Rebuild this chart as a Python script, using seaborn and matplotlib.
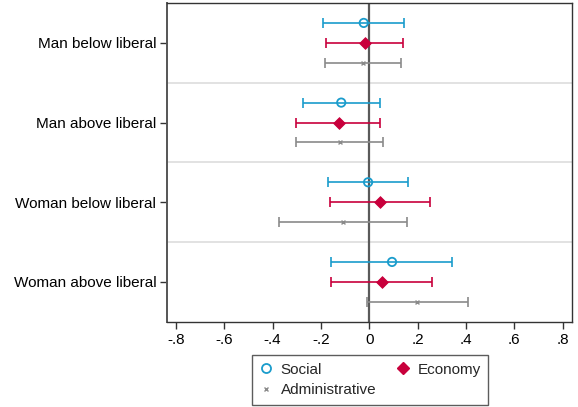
import numpy as np
import pandas as pd
import matplotlib
matplotlib.use("Agg")
import matplotlib.pyplot as plt
from matplotlib.lines import Line2D
import seaborn as sns

# Groups and estimates with 95% confidence bounds
groups = ["Man below liberal", "Man above liberal",
          "Woman below liberal", "Woman above liberal"]

social_est = [-0.023, -0.116, -0.005, 0.094]
social_lo = [-0.191, -0.273, -0.169, -0.157]
social_hi = [0.145, 0.043, 0.160, 0.343]

economy_est = [-0.019, -0.127, 0.044, 0.052]
economy_lo = [-0.179, -0.302, -0.162, -0.157]
economy_hi = [0.139, 0.044, 0.252, 0.259]

admin_est = [-0.027, -0.122, -0.109, 0.198]
admin_lo = [-0.184, -0.303, -0.373, -0.010]
admin_hi = [0.130, 0.055, 0.154, 0.408]

x_ticks = [-0.8, -0.6, -0.4, -0.2, 0.0, 0.2, 0.4, 0.6, 0.8]
x_tick_labels = ["-.8", "-.6", "-.4", "-.2", "0", ".2", ".4", ".6", ".8"]

series = ["Social", "Economy", "Administrative"]
colors = {"Social": "#1a9ccc", "Economy": "#c8003c", "Administrative": "#8a8a8a"}
offsets = {"Social": -0.25, "Economy": 0.0, "Administrative": 0.25}

frames = []
for name, est, lo, hi in [("Social", social_est, social_lo, social_hi),
                          ("Economy", economy_est, economy_lo, economy_hi),
                          ("Administrative", admin_est, admin_lo, admin_hi)]:
    frames.append(pd.DataFrame({
        "group": groups, "series": name,
        "est": est, "lo": lo, "hi": hi,
        "pos": np.arange(len(groups)) + offsets[name],
    }))
df = pd.concat(frames, ignore_index=True)

sns.set_theme(style="white")
plt.rcParams["font.family"] = ["Liberation Sans", "DejaVu Sans"]

fig = plt.figure(figsize=(5.78, 4.07), dpi=100)
ax = fig.add_axes([0.2895, 0.2096, 0.7005, 0.783])

# Group separators and zero reference line
for b in np.arange(0.5, len(groups) - 0.5, 1.0):
    ax.axhline(b, color="#dddddd", lw=1.2, zorder=0)
ax.axvline(0, color="#5a5a5a", lw=1.6, zorder=1)

# Confidence intervals
for name in series:
    d = df[df["series"] == name]
    ax.errorbar(d["est"], d["pos"],
                xerr=[d["est"] - d["lo"], d["hi"] - d["est"]],
                fmt="none", ecolor=colors[name], elinewidth=1.2,
                capsize=3.6, capthick=1.2, zorder=2)

# Point estimates
d = df[df["series"] == "Social"]
sns.scatterplot(data=d, x="est", y="pos", ax=ax, marker="o", s=36,
                color=colors["Social"], facecolors="none",
                edgecolor=colors["Social"], linewidth=1.3, zorder=3)
d = df[df["series"] == "Economy"]
sns.scatterplot(data=d, x="est", y="pos", ax=ax, marker="D", s=36,
                color=colors["Economy"], edgecolor=colors["Economy"],
                linewidth=0.6, zorder=3)
d = df[df["series"] == "Administrative"]
sns.scatterplot(data=d, x="est", y="pos", ax=ax, marker="x", s=8,
                color=colors["Administrative"], linewidth=1.0, zorder=3)

ax.set_xlim(-0.835, 0.839)
ax.set_ylim(len(groups) - 0.5, -0.5)
ax.set_xticks(x_ticks)
ax.set_xticklabels(x_tick_labels)
ax.set_yticks(np.arange(len(groups)))
ax.set_yticklabels(groups)
ax.set_xlabel("")
ax.set_ylabel("")
ax.tick_params(axis="both", which="both", direction="out", length=5,
               width=1.0, color="#333333", labelsize=11, pad=3,
               left=True, bottom=True, labelcolor="black")

for side, sp in ax.spines.items():
    sp.set_visible(True)
    sp.set_linewidth(1.0)
    sp.set_color("#333333")
ax.spines["left"].set_color("#555555")
ax.spines["left"].set_linewidth(1.4)

h_social = Line2D([], [], marker="o", ls="none", markersize=6.5,
                  markerfacecolor="none", markeredgecolor=colors["Social"],
                  markeredgewidth=1.3, label="Social")
h_econ = Line2D([], [], marker="D", ls="none", markersize=6.5,
                color=colors["Economy"], label="Economy")
h_admin = Line2D([], [], marker="x", ls="none", markersize=3,
                 color=colors["Administrative"], markeredgewidth=1.0,
                 label="Administrative")
# legend fills column by column: order handles so rows read Social, Economy
leg = fig.legend(handles=[h_social, h_admin, h_econ], ncol=2,
                 loc="upper center", bbox_to_anchor=(0.64, 0.128),
                 frameon=True, fancybox=False, fontsize=11,
                 handlelength=0.9, handletextpad=0.5, columnspacing=1.3,
                 borderpad=0.5, labelspacing=0.45, borderaxespad=0.0)
leg.get_frame().set_edgecolor("#333333")
leg.get_frame().set_linewidth(1.0)

fig.savefig("out.png", dpi=100)
